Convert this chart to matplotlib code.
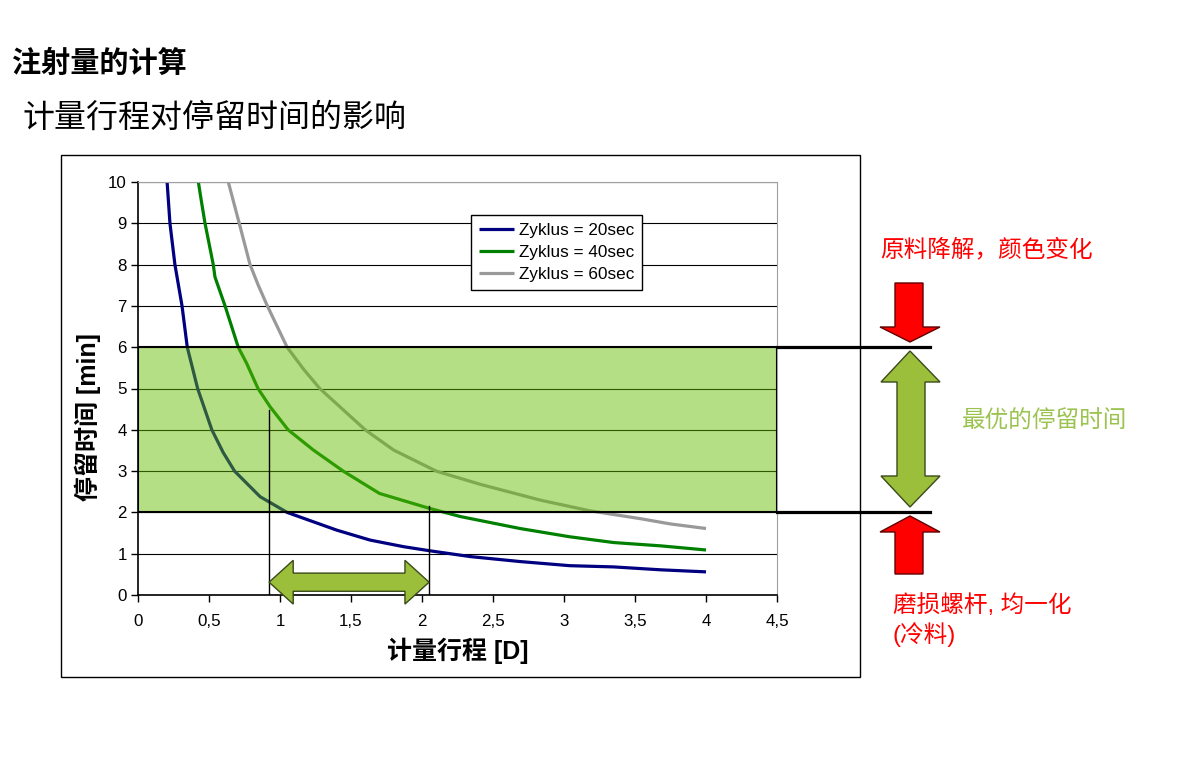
import numpy as np
import matplotlib
matplotlib.use("Agg")
import matplotlib.pyplot as plt
from matplotlib.patches import Rectangle, Polygon
from matplotlib.ticker import FuncFormatter

plt.rcParams['font.family'] = ['Liberation Sans', 'Noto Sans CJK SC', 'DejaVu Sans']

# 读图得到的数据：计量行程 [D] -> 停留时间 [min]
x20 = [0.205, 0.225, 0.26, 0.31, 0.347, 0.42, 0.52, 0.60, 0.68, 0.86, 1.05,
       1.164, 1.40, 1.634, 1.87, 2.056, 2.34, 2.69, 3.04, 3.35, 3.68, 4.0]
y20 = [10, 9, 8, 7, 6, 5, 4, 3.45, 3.0, 2.38, 2.0,
       1.86, 1.57, 1.33, 1.17, 1.07, 0.93, 0.81, 0.71, 0.68, 0.61, 0.56]
x40 = [0.425, 0.448, 0.472, 0.53, 0.542, 0.613, 0.706, 0.765, 0.845, 0.93, 1.057,
       1.235, 1.445, 1.70, 2.05, 2.27, 2.69, 3.04, 3.35, 3.68, 4.0]
y40 = [10, 9.5, 9, 8, 7.7, 7, 6, 5.61, 5, 4.56, 4,
       3.51, 3, 2.46, 2.1, 1.90, 1.61, 1.41, 1.27, 1.19, 1.09]
x60 = [0.636, 0.713, 0.789, 0.847, 0.911, 1.05, 1.17, 1.28, 1.60, 1.80, 2.1, 2.41,
       2.83, 3.18, 3.535, 3.75, 4.0]
y60 = [10, 9, 8, 7.5, 7, 6, 5.45, 5, 4, 3.51, 3.0, 2.68,
       2.30, 2.04, 1.85, 1.72, 1.61]
labels = ['Zyklus = 20sec', 'Zyklus = 40sec', 'Zyklus = 60sec']
colors = ['#000080', '#008000', '#999999']

band_lo, band_hi = 2, 6          # 最优停留时间范围
stroke_lo, stroke_hi = 0.923, 2.05  # 对应的计量行程范围

W, H = 1187, 774
fig = plt.figure(figsize=(W / 100, H / 100), dpi=100)

# 像素坐标的覆盖层，用来画标题、外框和右侧箭头
ov = fig.add_axes([0, 0, 1, 1], zorder=0)
ov.set_xlim(0, W)
ov.set_ylim(H, 0)
ov.axis('off')

ax = fig.add_axes([138 / W, 179 / H, 639 / W, 413 / H], zorder=2)

for xs, ys, c, lab in zip([x20, x40, x60], [y20, y40, y60], colors, labels):
    ax.plot(xs, ys, color=c, lw=2.3, label=lab, zorder=2, solid_capstyle='butt')

ax.set_xlim(0, 4.5)
ax.set_ylim(0, 10)
ax.set_xticks(np.arange(0, 4.51, 0.5))
ax.set_yticks(np.arange(0, 11, 1))
ax.xaxis.set_major_formatter(FuncFormatter(lambda v, p: ('%g' % v).replace('.', ',')))
ax.tick_params(direction='out', length=5, width=1, labelsize=12.2, pad=9)
ax.tick_params(axis='y', pad=3)
ax.grid(axis='y', color='black', lw=0.8, zorder=1)
ax.set_axisbelow(True)
for s in ['top', 'right']:
    ax.spines[s].set_color('#a0a0a0')
for s in ['left', 'bottom']:
    ax.spines[s].set_linewidth(1.2)

# 最优停留时间区域（半透明，压在曲线上方）
ax.add_patch(Rectangle((0, band_lo), 4.5, band_hi - band_lo,
                       facecolor=(98 / 255, 188 / 255, 0, 0.48),
                       edgecolor='black', lw=1.5, zorder=3))
ax.plot([4.5, 5.58], [band_hi, band_hi], color='black', lw=2.3, clip_on=False, zorder=4)
ax.plot([4.5, 5.58], [band_lo, band_lo], color='black', lw=2.3, clip_on=False, zorder=4)

# 行程范围竖线
ax.plot([stroke_lo, stroke_lo], [0, 4.48], color='black', lw=1, zorder=4)
ax.plot([stroke_hi, stroke_hi], [0, 2.15], color='black', lw=1, zorder=4)

# 水平双向箭头
yc, hh, sh, hl = 0.31, 0.53, 0.22, 0.17
l, r = stroke_lo, stroke_hi
arrow = [(l, yc), (l + hl, yc + hh), (l + hl, yc + sh), (r - hl, yc + sh), (r - hl, yc + hh),
         (r, yc), (r - hl, yc - hh), (r - hl, yc - sh), (l + hl, yc - sh), (l + hl, yc - hh)]
ax.add_patch(Polygon(arrow, closed=True, facecolor='#9bbf3b', edgecolor='#3a4a1a',
                     lw=1, zorder=5, clip_on=False))

ax.set_xlabel('计量行程 [D]', fontsize=18, fontweight='bold', labelpad=6)
ax.set_ylabel('停留时间 [min]', fontsize=18, fontweight='bold', va='center')
ax.yaxis.set_label_coords(-0.078, 0.43)

leg = ax.legend(loc='upper left', bbox_to_anchor=(0.521, 0.92), borderaxespad=0,
                fontsize=12.3, fancybox=False, edgecolor='black', framealpha=1,
                handlelength=2.1, handletextpad=0.25, labelspacing=0.42, borderpad=0.45)
leg.get_frame().set_linewidth(1)
leg.set_zorder(6)

# 外框和标题
ov.add_patch(Rectangle((61, 155), 799, 522, fill=False, edgecolor='black', lw=1))
ov.text(12, 64, '注射量的计算', fontsize=21, fontweight='bold', va='center', ha='left')
ov.text(22, 119, '计量行程对停留时间的影响', fontsize=23, va='center', ha='left')

# 右侧说明箭头
red = '#ff0000'
ov.add_patch(Polygon([(895, 283), (923, 283), (923, 327), (940, 327), (910, 342),
                      (880, 327), (895, 327)], closed=True, facecolor=red,
                     edgecolor='#600000', lw=1))
ov.add_patch(Polygon([(895, 574), (923, 574), (923, 532), (940, 532), (910, 516),
                      (880, 532), (895, 532)], closed=True, facecolor=red,
                     edgecolor='#600000', lw=1))
ov.add_patch(Polygon([(910, 351), (940, 382), (925, 382), (925, 476), (940, 476), (910, 507),
                      (881, 476), (897, 476), (897, 382), (881, 382)], closed=True,
                     facecolor='#9bbf3b', edgecolor='#3a4a1a', lw=1))

ov.text(880, 250, '原料降解，颜色变化', color=red, fontsize=17, va='center', ha='left')
ov.text(962, 422, '最优的停留时间', color='#9bc34f', fontsize=17, va='center', ha='left')
ov.text(893, 606, '磨损螺杆, 均一化', color=red, fontsize=17, va='center', ha='left')
ov.text(893, 635, '(冷料)', color=red, fontsize=17, va='center', ha='left')

fig.savefig('out.png', dpi=100)
